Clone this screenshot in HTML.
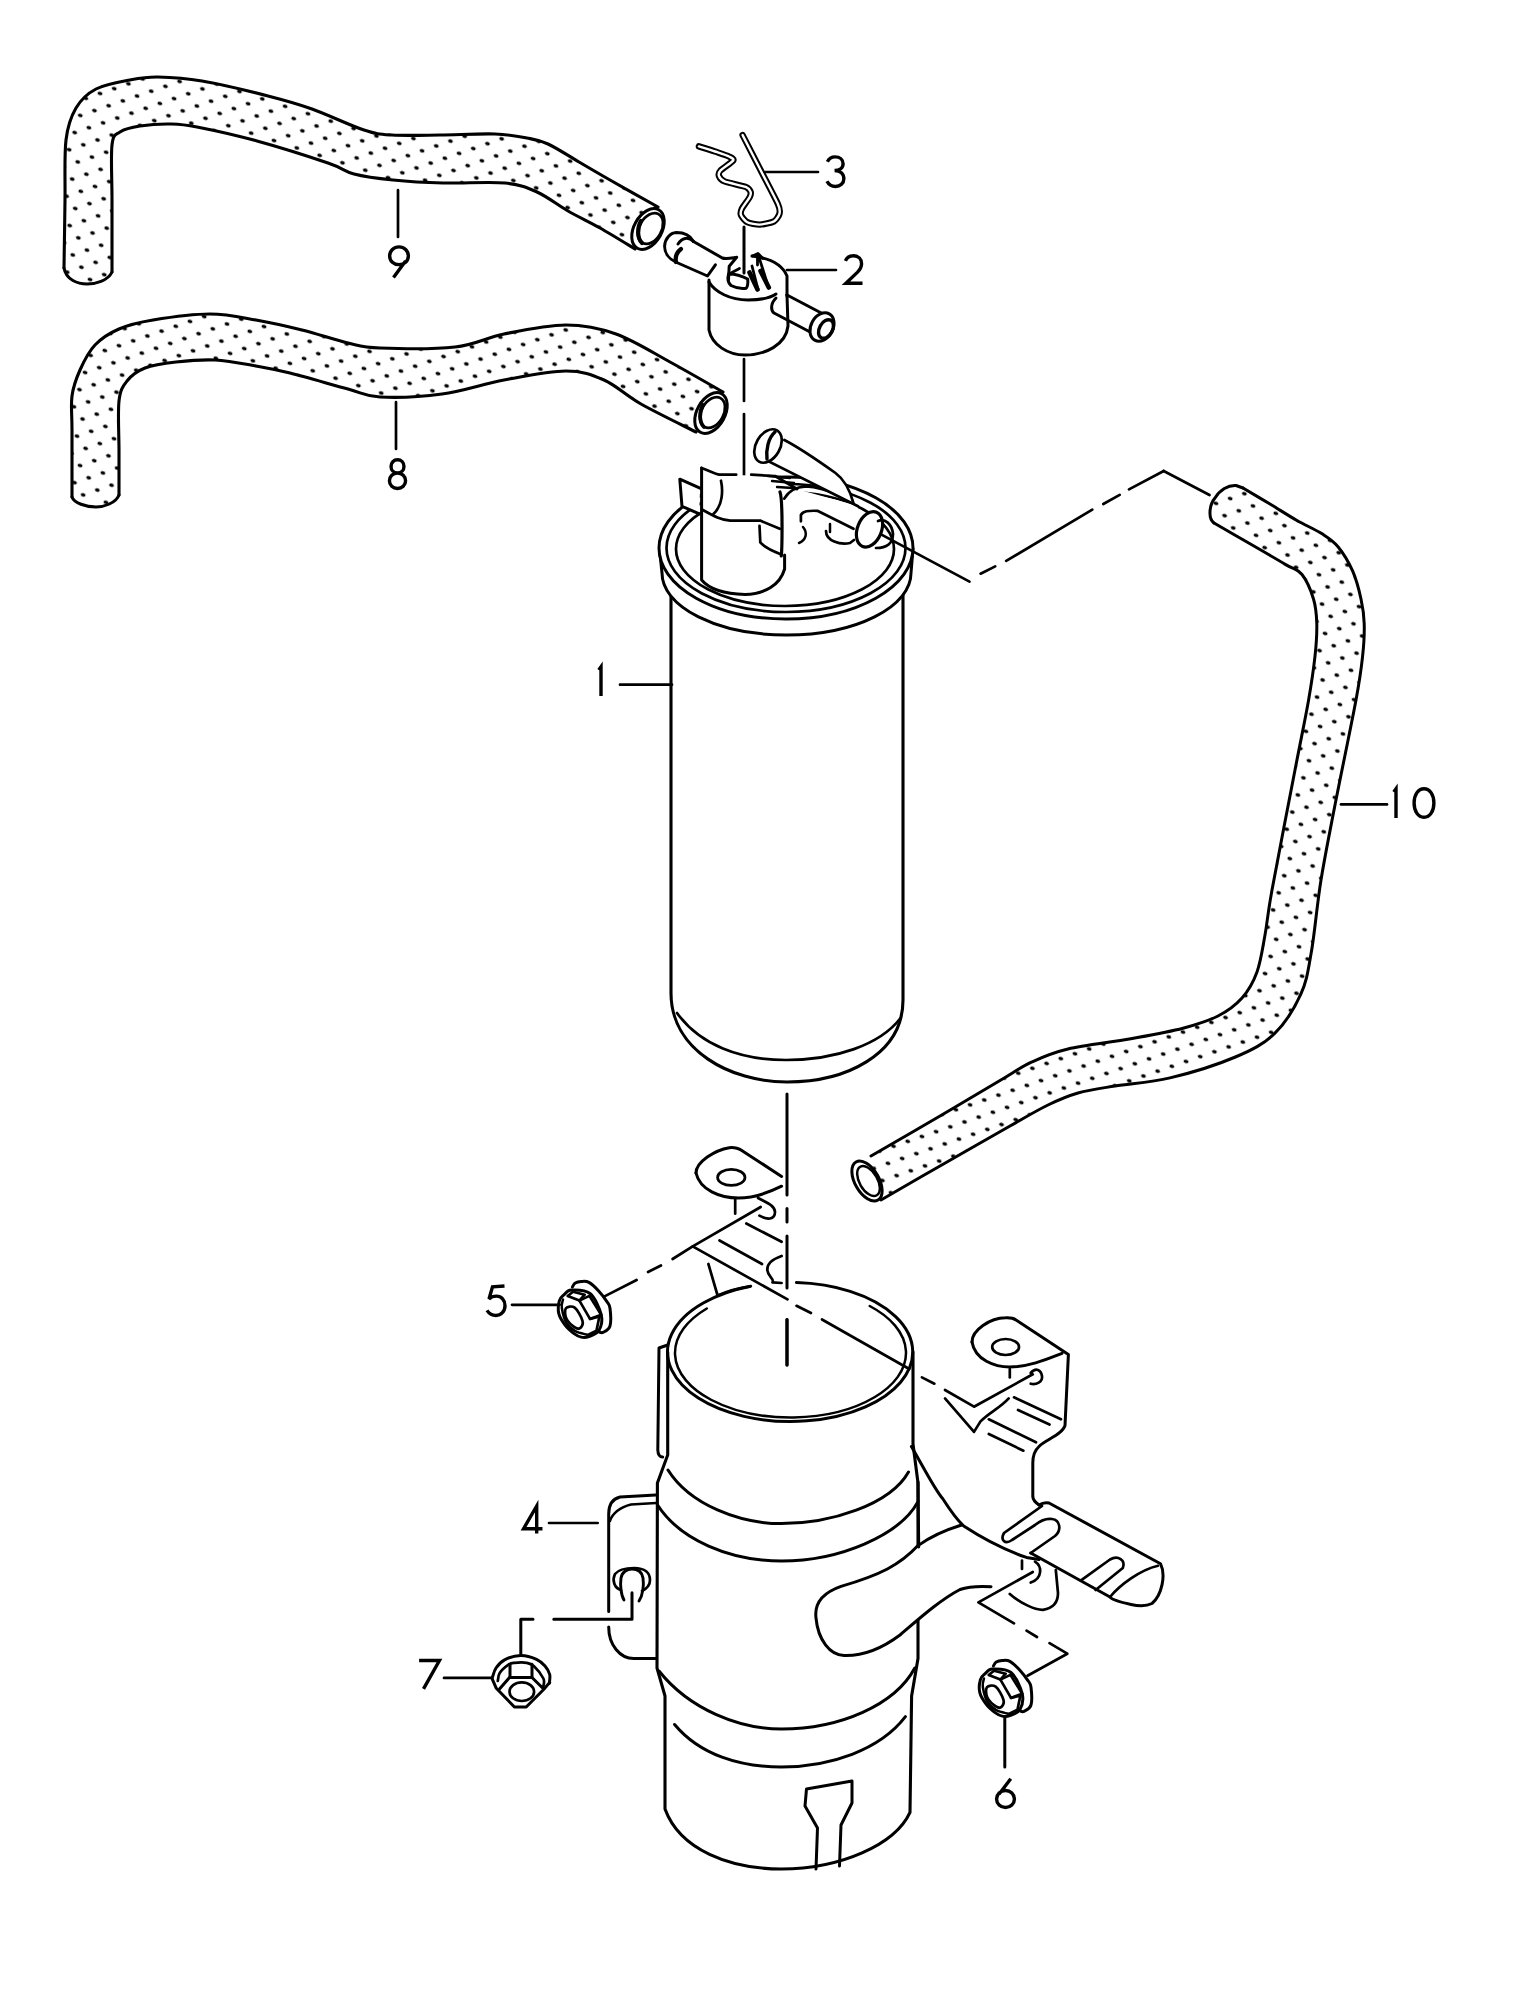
<!DOCTYPE html>
<html><head><meta charset="utf-8"><style>
html,body{margin:0;padding:0;background:#fff;font-family:"Liberation Sans",sans-serif;overflow:hidden;}
svg{display:block;}
</style></head><body>
<svg width="1529" height="2009" viewBox="0 0 1529 2009" stroke-linecap="round" stroke-linejoin="round">
<defs>
<pattern id="dots" width="24" height="18" patternUnits="userSpaceOnUse" patternTransform="rotate(18)">
<ellipse cx="4" cy="4" rx="2.5" ry="1.8" fill="#000"/><ellipse cx="16" cy="13" rx="2.5" ry="1.8" fill="#000"/>
</pattern>
</defs>
<rect width="1529" height="2009" fill="#fff"/>
<path d="M64,268 C64.2,256.7 64.7,221.3 65,200 C65.3,178.7 64.2,155.3 66,140 C67.8,124.7 71,116.5 76,108 C81,99.5 87,93.7 96,89 C105,84.3 119.7,82 130,80 C140.3,78 146,76.8 158,77 C170,77.2 183.7,77.8 202,81 C220.3,84.2 249.7,91.3 268,96 C286.3,100.7 296,103.3 312,109 C328,114.7 350.7,125.7 364,130 C377.3,134.3 379.3,134.2 392,135 C404.7,135.8 422.8,135.2 440,135 C457.2,134.8 480.5,133.5 495,134 C509.5,134.5 518.2,136.3 527,138 C535.8,139.7 539.3,140 548,144 C556.7,148 568.7,156 579,162 C589.3,168 596.8,172.5 610,180 C623.2,187.5 650,202.5 658,207 L635,249 C629.2,245.5 611.2,234.3 600,228 C588.8,221.7 578.5,217 568,211 C557.5,205 547.5,196.7 537,192 C526.5,187.3 520.7,184.5 505,183 C489.3,181.5 461.7,183.5 443,183 C424.3,182.5 407.8,181.5 393,180 C378.2,178.5 364.8,176.8 354,174 C343.2,171.2 344.2,168.5 328,163 C311.8,157.5 278.8,147 257,141 C235.2,135 211.3,129.8 197,127 C182.7,124.2 180.5,124.2 171,124 C161.5,123.8 148.5,124.7 140,126 C131.5,127.3 124.7,128.8 120,132 C115.3,135.2 113.3,133.7 112,145 C110.7,156.3 112,178.8 112,200 C112,221.2 112,260 112,272 C108,281 95,284 87,284 C78,284 66,280 64,268Z" fill="#fff" stroke="none"/>
<path d="M64,268 C64.2,256.7 64.7,221.3 65,200 C65.3,178.7 64.2,155.3 66,140 C67.8,124.7 71,116.5 76,108 C81,99.5 87,93.7 96,89 C105,84.3 119.7,82 130,80 C140.3,78 146,76.8 158,77 C170,77.2 183.7,77.8 202,81 C220.3,84.2 249.7,91.3 268,96 C286.3,100.7 296,103.3 312,109 C328,114.7 350.7,125.7 364,130 C377.3,134.3 379.3,134.2 392,135 C404.7,135.8 422.8,135.2 440,135 C457.2,134.8 480.5,133.5 495,134 C509.5,134.5 518.2,136.3 527,138 C535.8,139.7 539.3,140 548,144 C556.7,148 568.7,156 579,162 C589.3,168 596.8,172.5 610,180 C623.2,187.5 650,202.5 658,207 L635,249 C629.2,245.5 611.2,234.3 600,228 C588.8,221.7 578.5,217 568,211 C557.5,205 547.5,196.7 537,192 C526.5,187.3 520.7,184.5 505,183 C489.3,181.5 461.7,183.5 443,183 C424.3,182.5 407.8,181.5 393,180 C378.2,178.5 364.8,176.8 354,174 C343.2,171.2 344.2,168.5 328,163 C311.8,157.5 278.8,147 257,141 C235.2,135 211.3,129.8 197,127 C182.7,124.2 180.5,124.2 171,124 C161.5,123.8 148.5,124.7 140,126 C131.5,127.3 124.7,128.8 120,132 C115.3,135.2 113.3,133.7 112,145 C110.7,156.3 112,178.8 112,200 C112,221.2 112,260 112,272 C108,281 95,284 87,284 C78,284 66,280 64,268Z" fill="url(#dots)" stroke="none"/>
<path d="M64,268 C64.2,256.7 64.7,221.3 65,200 C65.3,178.7 64.2,155.3 66,140 C67.8,124.7 71,116.5 76,108 C81,99.5 87,93.7 96,89 C105,84.3 119.7,82 130,80 C140.3,78 146,76.8 158,77 C170,77.2 183.7,77.8 202,81 C220.3,84.2 249.7,91.3 268,96 C286.3,100.7 296,103.3 312,109 C328,114.7 350.7,125.7 364,130 C377.3,134.3 379.3,134.2 392,135 C404.7,135.8 422.8,135.2 440,135 C457.2,134.8 480.5,133.5 495,134 C509.5,134.5 518.2,136.3 527,138 C535.8,139.7 539.3,140 548,144 C556.7,148 568.7,156 579,162 C589.3,168 596.8,172.5 610,180 C623.2,187.5 650,202.5 658,207" fill="none" stroke="#000" stroke-width="3.1" />
<path d="M635,249 C629.2,245.5 611.2,234.3 600,228 C588.8,221.7 578.5,217 568,211 C557.5,205 547.5,196.7 537,192 C526.5,187.3 520.7,184.5 505,183 C489.3,181.5 461.7,183.5 443,183 C424.3,182.5 407.8,181.5 393,180 C378.2,178.5 364.8,176.8 354,174 C343.2,171.2 344.2,168.5 328,163 C311.8,157.5 278.8,147 257,141 C235.2,135 211.3,129.8 197,127 C182.7,124.2 180.5,124.2 171,124 C161.5,123.8 148.5,124.7 140,126 C131.5,127.3 124.7,128.8 120,132 C115.3,135.2 113.3,133.7 112,145 C110.7,156.3 112,178.8 112,200 C112,221.2 112,260 112,272" fill="none" stroke="#000" stroke-width="3.1" />
<path d="M112,272 C108,281 95,284 87,284 C78,284 66,280 64,268" fill="none" stroke="#000" stroke-width="3.0" />
<ellipse cx="648" cy="229" rx="14" ry="22" transform="rotate(29 648 229)" fill="#fff" stroke="#000" stroke-width="3.0" />
<ellipse cx="650.5" cy="228.5" rx="11" ry="16.5" transform="rotate(29 650.5 228.5)" fill="#fff" stroke="#000" stroke-width="2.7" />
<path d="M641,221 C637,228 637,238 642,243" fill="none" stroke="#000" stroke-width="4.2" />
<path d="M72,497 C72,485.8 72,446.8 72,430 C72,413.2 70.7,406 72,396 C73.3,386 76.2,378.5 80,370 C83.8,361.5 88.5,351.8 95,345 C101.5,338.2 109.3,333.2 119,329 C128.7,324.8 137.8,322.5 153,320 C168.2,317.5 192.8,314 210,314 C227.2,314 240.7,317.3 256,320 C271.3,322.7 286.7,326.2 302,330 C317.3,333.8 335,340 348,343 C361,346 362.2,347.3 380,348 C397.8,348.7 434.3,349.3 455,347 C475.7,344.7 485.5,337.7 504,334 C522.5,330.3 547.3,325 566,325 C584.7,325 598.7,327.8 616,334 C633.3,340.2 652.2,352.3 670,362 C687.8,371.7 714.2,387 723,392 L696,432 C686.8,427.3 656.3,412.7 641,404 C625.7,395.3 616.5,385.5 604,380 C591.5,374.5 582.7,371 566,371 C549.3,371 524.7,376.2 504,380 C483.3,383.8 462.7,391.2 442,394 C421.3,396.8 395.7,397.8 380,397 C364.3,396.2 363,393 348,389 C333,385 305.3,376.8 290,373 C274.7,369.2 268.5,368.2 256,366 C243.5,363.8 228.3,360.7 215,360 C201.7,359.3 187.7,360.7 176,362 C164.3,363.3 153.2,364.8 145,368 C136.8,371.2 131.3,375.5 127,381 C122.7,386.5 120.3,389.5 119,401 C117.7,412.5 119,434.3 119,450 C119,465.7 119,487.5 119,495 C116,503 104,507 96,507 C86,507 74,503 72,497Z" fill="#fff" stroke="none"/>
<path d="M72,497 C72,485.8 72,446.8 72,430 C72,413.2 70.7,406 72,396 C73.3,386 76.2,378.5 80,370 C83.8,361.5 88.5,351.8 95,345 C101.5,338.2 109.3,333.2 119,329 C128.7,324.8 137.8,322.5 153,320 C168.2,317.5 192.8,314 210,314 C227.2,314 240.7,317.3 256,320 C271.3,322.7 286.7,326.2 302,330 C317.3,333.8 335,340 348,343 C361,346 362.2,347.3 380,348 C397.8,348.7 434.3,349.3 455,347 C475.7,344.7 485.5,337.7 504,334 C522.5,330.3 547.3,325 566,325 C584.7,325 598.7,327.8 616,334 C633.3,340.2 652.2,352.3 670,362 C687.8,371.7 714.2,387 723,392 L696,432 C686.8,427.3 656.3,412.7 641,404 C625.7,395.3 616.5,385.5 604,380 C591.5,374.5 582.7,371 566,371 C549.3,371 524.7,376.2 504,380 C483.3,383.8 462.7,391.2 442,394 C421.3,396.8 395.7,397.8 380,397 C364.3,396.2 363,393 348,389 C333,385 305.3,376.8 290,373 C274.7,369.2 268.5,368.2 256,366 C243.5,363.8 228.3,360.7 215,360 C201.7,359.3 187.7,360.7 176,362 C164.3,363.3 153.2,364.8 145,368 C136.8,371.2 131.3,375.5 127,381 C122.7,386.5 120.3,389.5 119,401 C117.7,412.5 119,434.3 119,450 C119,465.7 119,487.5 119,495 C116,503 104,507 96,507 C86,507 74,503 72,497Z" fill="url(#dots)" stroke="none"/>
<path d="M72,497 C72,485.8 72,446.8 72,430 C72,413.2 70.7,406 72,396 C73.3,386 76.2,378.5 80,370 C83.8,361.5 88.5,351.8 95,345 C101.5,338.2 109.3,333.2 119,329 C128.7,324.8 137.8,322.5 153,320 C168.2,317.5 192.8,314 210,314 C227.2,314 240.7,317.3 256,320 C271.3,322.7 286.7,326.2 302,330 C317.3,333.8 335,340 348,343 C361,346 362.2,347.3 380,348 C397.8,348.7 434.3,349.3 455,347 C475.7,344.7 485.5,337.7 504,334 C522.5,330.3 547.3,325 566,325 C584.7,325 598.7,327.8 616,334 C633.3,340.2 652.2,352.3 670,362 C687.8,371.7 714.2,387 723,392" fill="none" stroke="#000" stroke-width="3.1" />
<path d="M696,432 C686.8,427.3 656.3,412.7 641,404 C625.7,395.3 616.5,385.5 604,380 C591.5,374.5 582.7,371 566,371 C549.3,371 524.7,376.2 504,380 C483.3,383.8 462.7,391.2 442,394 C421.3,396.8 395.7,397.8 380,397 C364.3,396.2 363,393 348,389 C333,385 305.3,376.8 290,373 C274.7,369.2 268.5,368.2 256,366 C243.5,363.8 228.3,360.7 215,360 C201.7,359.3 187.7,360.7 176,362 C164.3,363.3 153.2,364.8 145,368 C136.8,371.2 131.3,375.5 127,381 C122.7,386.5 120.3,389.5 119,401 C117.7,412.5 119,434.3 119,450 C119,465.7 119,487.5 119,495" fill="none" stroke="#000" stroke-width="3.1" />
<path d="M119,495 C116,503 104,507 96,507 C86,507 74,503 72,497" fill="none" stroke="#000" stroke-width="3.0" />
<ellipse cx="711" cy="413" rx="14" ry="22" transform="rotate(29 711 413)" fill="#fff" stroke="#000" stroke-width="3.0" />
<ellipse cx="712.5" cy="412.5" rx="11" ry="16.5" transform="rotate(29 712.5 412.5)" fill="#fff" stroke="#000" stroke-width="2.7" />
<path d="M703,405 C699,412 699,422 704,427" fill="none" stroke="#000" stroke-width="3.8" />
<path d="M698.9,146.4 C700.8,147 711.5,150.3 715,151.5 C718.5,152.7 726.9,155.4 729,156.5 C731.1,157.6 734.2,158.9 733.2,160.5 C732.2,162.1 722.3,168.6 720.6,170.4 C718.9,172.2 718.5,174.7 719,176 C719.5,177.3 721.5,180.1 724.6,181.4 C727.7,182.7 742.7,185.7 745.7,186.9 C748.7,188.1 750,190.4 750.5,191.6 C751,192.8 750.7,195.1 749.7,197.1 C748.7,199.1 742.8,206.8 741.8,208.9 C740.8,211 740.4,213.6 741,215.2 C741.6,216.8 745.1,221.1 747.3,222.2 C749.5,223.3 756.8,224.7 759.9,224.6 C763,224.5 771.7,222.7 774,221.4 C776.3,220.1 779,215.6 779.5,213.6 C780,211.6 780.3,209.4 778,204.2 C775.7,199 764.1,177.1 760,169 C755.9,160.9 744.6,139.1 742.6,135.1" fill="none" stroke="#000" stroke-width="6.4" />
<path d="M698.9,146.4 C700.8,147 711.5,150.3 715,151.5 C718.5,152.7 726.9,155.4 729,156.5 C731.1,157.6 734.2,158.9 733.2,160.5 C732.2,162.1 722.3,168.6 720.6,170.4 C718.9,172.2 718.5,174.7 719,176 C719.5,177.3 721.5,180.1 724.6,181.4 C727.7,182.7 742.7,185.7 745.7,186.9 C748.7,188.1 750,190.4 750.5,191.6 C751,192.8 750.7,195.1 749.7,197.1 C748.7,199.1 742.8,206.8 741.8,208.9 C740.8,211 740.4,213.6 741,215.2 C741.6,216.8 745.1,221.1 747.3,222.2 C749.5,223.3 756.8,224.7 759.9,224.6 C763,224.5 771.7,222.7 774,221.4 C776.3,220.1 779,215.6 779.5,213.6 C780,211.6 780.3,209.4 778,204.2 C775.7,199 764.1,177.1 760,169 C755.9,160.9 744.6,139.1 742.6,135.1" fill="none" stroke="#fff" stroke-width="2.4"/>
<line x1="765" y1="172" x2="818" y2="172" stroke="#000" stroke-width="2.7" />
<line x1="744" y1="227" x2="744" y2="273" stroke="#000" stroke-width="3.0" />
<path d="M709,280 L709,330 C712,345 728,355 745,355 C765,355 786,345 788,326 L787,295" fill="#fff" stroke="#000" stroke-width="3.0" />
<path d="M709,282 C715,292 730,300 748,300 C760,300 770,298 776,294" fill="none" stroke="#000" stroke-width="3.0" />
<path d="M752,256 C768,258 782,264 787,276 L787,296" fill="none" stroke="#000" stroke-width="3.0" />
<path d="M693.5,241.5 L722.3,258 C726,259.5 732,258 736.7,257.3 L729.2,266.2 L728.5,280" fill="none" stroke="#000" stroke-width="3.0" />
<path d="M675.6,262 L707.5,276 L715.4,264.8" fill="none" stroke="#000" stroke-width="3.0" />
<path d="M693.5,241.5 C690,235 683,232.6 676.3,232.6 C670,233 665,239 664.6,246 C664.5,253 669,259 675.6,262" fill="none" stroke="#000" stroke-width="3.0" />
<path d="M678,244 C682,238 688,236 693.5,241.5" fill="none" stroke="#000" stroke-width="3.0" />
<path d="M681,249 C677,252 675,257 676,262" fill="none" stroke="#000" stroke-width="4.2" />
<path d="M787,295 L827,316" fill="none" stroke="#000" stroke-width="3.0" />
<path d="M776,298 C770,304 771,311 774,313 L812,333" fill="none" stroke="#000" stroke-width="3.0" />
<ellipse cx="822" cy="327" rx="11" ry="15" transform="rotate(29 822 327)" fill="#fff" stroke="#000" stroke-width="3.0" />
<ellipse cx="826" cy="329" rx="6.5" ry="10" transform="rotate(29 826 329)" fill="none" stroke="#000" stroke-width="3.4" />
<path d="M728.5,274 C727,280 728,283 731,285.5 C736,288 742,289 746.3,288.2 C748,286 748,282 747.7,279 C742,276 736,274 729,274" fill="none" stroke="#000" stroke-width="3.0" />
<path d="M731,273 L739.5,268.5" fill="none" stroke="#000" stroke-width="2.7" />
<path d="M749.5,272.5 L757.5,289.5 M760.5,271 L768.8,287.5" fill="none" stroke="#000" stroke-width="4.6" />
<path d="M752,266 L758,289.5 M758,254 L768.5,287.5 M752.5,256 L758,253.5 L763,258.5 M757.5,254 L757.5,265" fill="none" stroke="#000" stroke-width="2.8" />
<line x1="787" y1="270" x2="836" y2="270" stroke="#000" stroke-width="2.7" />
<line x1="744" y1="359" x2="744" y2="401" stroke="#000" stroke-width="2.7" />
<line x1="744" y1="414" x2="744" y2="515" stroke="#000" stroke-width="2.7" />
<path d="M671,594 L671,993 C671,1050 730,1082 787,1082 C845,1082 903,1055 903,1000 L903,594" fill="none" stroke="#000" stroke-width="3.1" />
<path d="M677,1013 C700,1045 740,1060 786,1060 C835,1060 880,1045 900.6,1018" fill="none" stroke="#000" stroke-width="2.7" />
<path d="M659.5,549 L662,573 A124.5,62 0 0 0 911,573 L913,549" fill="#fff" stroke="#000" stroke-width="3.0" />
<ellipse cx="786" cy="548" rx="127" ry="71" transform="rotate(0 786 548)" fill="#fff" stroke="#000" stroke-width="3.0" />
<ellipse cx="786" cy="548" rx="119.5" ry="64" transform="rotate(0 786 548)" fill="none" stroke="#000" stroke-width="2.7" />
<ellipse cx="785" cy="549" rx="109" ry="57" transform="rotate(0 785 549)" fill="none" stroke="#000" stroke-width="2.7" />
<path d="M701.6,468 L719.6,474.7 L775,476 L800,490 L858,506 L856,545 L781.3,556 L784.6,570 L778,583.5 L749,594.5 L727,592.7 L701.6,580Z" fill="#fff" stroke="none"/>
<path d="M679.8,479.2 L700,488.2 L699.3,513.8 L682,506.3Z" fill="#fff" stroke="none"/>
<path d="M699.3,513.8 L682,506.3 L679.8,479.2 L700,488.2" fill="none" stroke="#000" stroke-width="3.0" />
<path d="M701.6,468 L701.6,580 C710,590 727,594 745,594.5 C765,594 780,585 784.6,569 L784.6,555" fill="none" stroke="#000" stroke-width="3.0" />
<path d="M701.6,468 C710,471 715,474 719.6,474.7 L736.2,474.7" fill="none" stroke="#000" stroke-width="2.7" />
<path d="M751.2,474.7 L775,476 L797,489" fill="none" stroke="#000" stroke-width="2.7" />
<path d="M768,476 L790,478 M772,481 L794,483 M777,487 L793,488" fill="none" stroke="#000" stroke-width="2.3" />
<path d="M721,480.7 C723,490 723,505 713.6,513.8" fill="none" stroke="#000" stroke-width="2.7" />
<path d="M701.6,509.3 C712,515 720,520 730.2,520.6 L760.2,520.6 L779.8,528.8" fill="none" stroke="#000" stroke-width="2.7" />
<path d="M759.5,525.8 L760.3,542.4 C765,548 775,552 781.3,554.4" fill="none" stroke="#000" stroke-width="2.7" />
<path d="M780,492 C783,500 782,550 781.3,556" fill="none" stroke="#000" stroke-width="3.2" />
<path d="M784.3,498.7 C788,492 795,487 806,486.5 C815,486.5 825,489 852,500.3" fill="none" stroke="#000" stroke-width="2.7" />
<path d="M800.9,521.3 L800.9,515 C803,511 808,510.5 817.4,510.8 L853.5,528.8" fill="none" stroke="#000" stroke-width="2.7" />
<path d="M803,527 C808,533 806,540 799,543" fill="none" stroke="#000" stroke-width="2.5" />
<path d="M826,531 C826,541 840,545 850,543 L854,540" fill="none" stroke="#000" stroke-width="2.7" />
<path d="M830,524 L830,532" fill="none" stroke="#000" stroke-width="2.5" />
<ellipse cx="869.5" cy="529.3" rx="12" ry="18.5" transform="rotate(22 869.5 529.3)" fill="#fff" stroke="#000" stroke-width="3.2" />
<path d="M878,521 C885,518 892,524 893,534 C893,543 887,548 876,548" fill="none" stroke="#000" stroke-width="2.7" />
<path d="M761.8,458 L858,506.3 L853.5,503.3 C850,490 845,480 835.5,473 L784,440 L770,430Z" fill="#fff" stroke="none"/>
<path d="M784.3,440 C800,448 820,462 835.5,473 C845,480 850,490 853.5,503.3" fill="none" stroke="#000" stroke-width="2.7" />
<path d="M761.8,458 L858,506.3" fill="none" stroke="#000" stroke-width="2.7" />
<path d="M881,534.4 L969.5,581.6" fill="none" stroke="#000" stroke-width="2.7" />
<ellipse cx="768" cy="446" rx="12" ry="18" transform="rotate(30 768 446)" fill="#fff" stroke="#000" stroke-width="2.7" />
<path d="M775,432 C768,438 766,450 767,459" fill="none" stroke="#000" stroke-width="3.4" />
<path d="M980.6,573.7 L995.2,566.4 M1006.2,560.9 L1092.3,509.6 M1103.3,504 L1119.7,494.9 M1129,489.4 L1163.7,471" fill="none" stroke="#000" stroke-width="2.7" />
<path d="M1163.7,471 L1209.5,495" fill="none" stroke="#000" stroke-width="2.7" />
<path d="M1243,488 C1247.5,490.7 1261,498.6 1270,504 C1279,509.4 1288.4,515.6 1297,520.5 C1305.6,525.4 1314.9,529.2 1321.7,533.6 C1328.5,538 1332.8,540.4 1338,546.7 C1343.2,553 1348.9,562.5 1352.7,571.2 C1356.5,579.9 1359.1,590.3 1361,599 C1362.9,607.7 1363.9,614 1364.2,623.5 C1364.5,633 1364,643.5 1362.6,656.2 C1361.2,669 1360.6,675.2 1356,700 C1351.4,724.8 1340.8,775 1335,805 C1329.2,835 1325,855.5 1321,880 C1317,904.5 1314.7,933.3 1311.3,952.3 C1307.9,971.3 1306.9,980.7 1300.8,994.2 C1294.7,1007.7 1285.6,1022.9 1274.7,1033.4 C1263.8,1043.9 1252.9,1049.6 1235.4,1057 C1218,1064.4 1190.1,1073.1 1170,1077.9 C1149.9,1082.7 1130.3,1083.5 1115,1086 C1099.7,1088.5 1089.2,1089.8 1078,1093 C1066.8,1096.2 1059.3,1099.5 1048,1105 C1036.7,1110.5 1028,1115.8 1010,1126 C992,1136.2 961.5,1153.7 940,1166 C918.5,1178.3 890.8,1194.3 881,1200 L871,1156 C882.5,1149.3 918.5,1128.6 940,1116 C961.5,1103.4 984.8,1089.5 1000,1080.5 C1015.2,1071.5 1020.1,1067.5 1031.4,1062.2 C1042.7,1057 1051.4,1052.9 1068,1049 C1084.6,1045.1 1111.6,1042.2 1130.8,1038.7 C1150,1035.2 1168.5,1032 1183,1028.2 C1197.5,1024.4 1208.2,1021 1218,1016 C1227.8,1011 1235.5,1005.3 1242,998 C1248.5,990.7 1253.2,982.5 1257,972 C1260.8,961.5 1262.5,948.7 1265,935 C1267.5,921.3 1267,917.5 1272,890 C1277,862.5 1288.9,801.7 1295,770 C1301.1,738.3 1305.3,719 1308.6,700 C1311.9,681 1313.6,669 1315,656.2 C1316.4,643.5 1317,633 1316.8,623.5 C1316.5,614 1316,607.2 1313.5,599 C1311,590.8 1306.6,580.2 1302,574.5 C1297.4,568.8 1295,570.1 1285.7,564.6 C1276.5,559.1 1258.5,548.7 1246.5,541.8 C1234.5,534.9 1219.4,526.1 1214,523 C1208,519 1209,505 1215,498 C1220,490 1228,485 1236,485.5 L1243,488Z" fill="#fff" stroke="none"/>
<path d="M1243,488 C1247.5,490.7 1261,498.6 1270,504 C1279,509.4 1288.4,515.6 1297,520.5 C1305.6,525.4 1314.9,529.2 1321.7,533.6 C1328.5,538 1332.8,540.4 1338,546.7 C1343.2,553 1348.9,562.5 1352.7,571.2 C1356.5,579.9 1359.1,590.3 1361,599 C1362.9,607.7 1363.9,614 1364.2,623.5 C1364.5,633 1364,643.5 1362.6,656.2 C1361.2,669 1360.6,675.2 1356,700 C1351.4,724.8 1340.8,775 1335,805 C1329.2,835 1325,855.5 1321,880 C1317,904.5 1314.7,933.3 1311.3,952.3 C1307.9,971.3 1306.9,980.7 1300.8,994.2 C1294.7,1007.7 1285.6,1022.9 1274.7,1033.4 C1263.8,1043.9 1252.9,1049.6 1235.4,1057 C1218,1064.4 1190.1,1073.1 1170,1077.9 C1149.9,1082.7 1130.3,1083.5 1115,1086 C1099.7,1088.5 1089.2,1089.8 1078,1093 C1066.8,1096.2 1059.3,1099.5 1048,1105 C1036.7,1110.5 1028,1115.8 1010,1126 C992,1136.2 961.5,1153.7 940,1166 C918.5,1178.3 890.8,1194.3 881,1200 L871,1156 C882.5,1149.3 918.5,1128.6 940,1116 C961.5,1103.4 984.8,1089.5 1000,1080.5 C1015.2,1071.5 1020.1,1067.5 1031.4,1062.2 C1042.7,1057 1051.4,1052.9 1068,1049 C1084.6,1045.1 1111.6,1042.2 1130.8,1038.7 C1150,1035.2 1168.5,1032 1183,1028.2 C1197.5,1024.4 1208.2,1021 1218,1016 C1227.8,1011 1235.5,1005.3 1242,998 C1248.5,990.7 1253.2,982.5 1257,972 C1260.8,961.5 1262.5,948.7 1265,935 C1267.5,921.3 1267,917.5 1272,890 C1277,862.5 1288.9,801.7 1295,770 C1301.1,738.3 1305.3,719 1308.6,700 C1311.9,681 1313.6,669 1315,656.2 C1316.4,643.5 1317,633 1316.8,623.5 C1316.5,614 1316,607.2 1313.5,599 C1311,590.8 1306.6,580.2 1302,574.5 C1297.4,568.8 1295,570.1 1285.7,564.6 C1276.5,559.1 1258.5,548.7 1246.5,541.8 C1234.5,534.9 1219.4,526.1 1214,523 C1208,519 1209,505 1215,498 C1220,490 1228,485 1236,485.5 L1243,488Z" fill="url(#dots)" stroke="none"/>
<path d="M1243,488 C1247.5,490.7 1261,498.6 1270,504 C1279,509.4 1288.4,515.6 1297,520.5 C1305.6,525.4 1314.9,529.2 1321.7,533.6 C1328.5,538 1332.8,540.4 1338,546.7 C1343.2,553 1348.9,562.5 1352.7,571.2 C1356.5,579.9 1359.1,590.3 1361,599 C1362.9,607.7 1363.9,614 1364.2,623.5 C1364.5,633 1364,643.5 1362.6,656.2 C1361.2,669 1360.6,675.2 1356,700 C1351.4,724.8 1340.8,775 1335,805 C1329.2,835 1325,855.5 1321,880 C1317,904.5 1314.7,933.3 1311.3,952.3 C1307.9,971.3 1306.9,980.7 1300.8,994.2 C1294.7,1007.7 1285.6,1022.9 1274.7,1033.4 C1263.8,1043.9 1252.9,1049.6 1235.4,1057 C1218,1064.4 1190.1,1073.1 1170,1077.9 C1149.9,1082.7 1130.3,1083.5 1115,1086 C1099.7,1088.5 1089.2,1089.8 1078,1093 C1066.8,1096.2 1059.3,1099.5 1048,1105 C1036.7,1110.5 1028,1115.8 1010,1126 C992,1136.2 961.5,1153.7 940,1166 C918.5,1178.3 890.8,1194.3 881,1200" fill="none" stroke="#000" stroke-width="3.0" />
<path d="M871,1156 C882.5,1149.3 918.5,1128.6 940,1116 C961.5,1103.4 984.8,1089.5 1000,1080.5 C1015.2,1071.5 1020.1,1067.5 1031.4,1062.2 C1042.7,1057 1051.4,1052.9 1068,1049 C1084.6,1045.1 1111.6,1042.2 1130.8,1038.7 C1150,1035.2 1168.5,1032 1183,1028.2 C1197.5,1024.4 1208.2,1021 1218,1016 C1227.8,1011 1235.5,1005.3 1242,998 C1248.5,990.7 1253.2,982.5 1257,972 C1260.8,961.5 1262.5,948.7 1265,935 C1267.5,921.3 1267,917.5 1272,890 C1277,862.5 1288.9,801.7 1295,770 C1301.1,738.3 1305.3,719 1308.6,700 C1311.9,681 1313.6,669 1315,656.2 C1316.4,643.5 1317,633 1316.8,623.5 C1316.5,614 1316,607.2 1313.5,599 C1311,590.8 1306.6,580.2 1302,574.5 C1297.4,568.8 1295,570.1 1285.7,564.6 C1276.5,559.1 1258.5,548.7 1246.5,541.8 C1234.5,534.9 1219.4,526.1 1214,523" fill="none" stroke="#000" stroke-width="3.0" />
<path d="M1214,523 C1208,519 1209,505 1215,498 C1220,490 1228,485 1236,485.5 L1243,488" fill="none" stroke="#000" stroke-width="3.0" />
<ellipse cx="867" cy="1181" rx="12" ry="22" transform="rotate(-30 867 1181)" fill="#fff" stroke="#000" stroke-width="3.0" />
<ellipse cx="868.5" cy="1181" rx="9" ry="16.5" transform="rotate(-30 868.5 1181)" fill="#fff" stroke="#000" stroke-width="2.5" />
<path d="M787,1094 L787,1195 M787,1208.5 L787,1222 M787,1236 L787,1288 M787,1319.5 L787,1365" fill="none" stroke="#000" stroke-width="3.0" />
<path d="M696,1173 C696,1162 715,1150 729.3,1147.7 C735,1147 739.8,1149 741,1150 L781.6,1176.4" fill="none" stroke="#000" stroke-width="3.0" />
<path d="M781.6,1186.2 C770,1192 755,1198 738.5,1198 C720,1198 700,1190 696,1173" fill="none" stroke="#000" stroke-width="3.0" />
<ellipse cx="731.3" cy="1177.4" rx="13.7" ry="8" transform="rotate(0 731.3 1177.4)" fill="none" stroke="#000" stroke-width="2.7" />
<path d="M735.2,1199 L735.2,1213.7" fill="none" stroke="#000" stroke-width="2.7" />
<path d="M758,1198 C765,1202 775,1205 775,1212 C775,1220 767,1220 759.4,1215.7" fill="none" stroke="#000" stroke-width="2.7" />
<path d="M672.6,1259 L692.7,1246.4 L760.7,1207" fill="none" stroke="#000" stroke-width="2.7" />
<path d="M692.7,1246.4 L787.5,1299.4" fill="none" stroke="#000" stroke-width="2.7" />
<path d="M746.3,1223.5 L781.6,1241.8 M719.5,1240.5 L762,1264" fill="none" stroke="#000" stroke-width="2.7" />
<path d="M781.6,1256 C770,1260 767,1265 767.3,1270 C768,1277 775,1279 772.5,1282.4 L781.6,1283" fill="none" stroke="#000" stroke-width="2.7" />
<path d="M708.4,1264 L717.6,1295.5 C728,1291 738,1288 750,1286.3" fill="none" stroke="#000" stroke-width="2.7" />
<path d="M604,1296.6 L636.6,1280 M648,1272 L661,1265.5" fill="none" stroke="#000" stroke-width="2.7" />
<path d="M796.5,1305.8 L811,1313 M822,1319.5 L909.3,1369 M921.9,1377.4 L934.4,1383.7" fill="none" stroke="#000" stroke-width="2.7" />
<path d="M750.7,1286.2 A122.6,69.5 0 1 0 796.5,1282.6" fill="none" stroke="#000" stroke-width="3.0" />
<path d="M706.8,1308.5 A115.5,64.5 0 1 0 869.7,1306" fill="none" stroke="#000" stroke-width="2.5" />
<path d="M787,1319.5 L787,1365" fill="none" stroke="#000" stroke-width="3.0" />
<path d="M667.7,1352 L667.7,1455 L657.4,1483 L657,1668 L665,1696 L665,1809 C680,1850 730,1869 781.4,1869 C840,1869 895,1845 910,1812.4 L911.6,1696 L918,1658.6 L918,1483 L913,1444 L913,1352" fill="none" stroke="#000" stroke-width="3.1" />
<path d="M667.7,1345 L659,1348 L657.8,1450 C658,1455 660,1457 662.7,1457" fill="none" stroke="#000" stroke-width="3.0" />
<path d="M668,1470 C690,1505 740,1523.6 781.4,1523.6 C830,1523.6 890,1505 908.5,1472" fill="none" stroke="#000" stroke-width="3.0" />
<path d="M657.4,1504.8 C680,1540 730,1561 781.4,1561 C840,1561 900,1535 918,1501.6" fill="none" stroke="#000" stroke-width="3.0" />
<path d="M659,1671 C690,1710 740,1729 781.4,1729 C840,1729 895,1705 914.8,1668" fill="none" stroke="#000" stroke-width="3.0" />
<path d="M674.6,1724.5 C700,1755 740,1767 781.4,1767 C830,1767 880,1750 905.4,1716.7" fill="none" stroke="#000" stroke-width="3.0" />
<path d="M816,1869 L817.5,1828 L805,1806 L806.5,1789 L852,1781 L852,1803 L841,1825 L839.5,1866" fill="none" stroke="#000" stroke-width="3.0" />
<path d="M655.8,1495 L620,1497 C612,1499 608.7,1506 608.7,1514 L608.7,1611.5" fill="none" stroke="#000" stroke-width="3.0" />
<path d="M656,1503 L631,1504.5 C620,1507 612,1514 610,1521" fill="none" stroke="#000" stroke-width="2.5" />
<path d="M608.7,1627 C608.7,1645 620,1658.6 633.8,1658.6 L655.8,1658.6" fill="none" stroke="#000" stroke-width="3.0" />
<path d="M621,1590 C614,1588 612,1580 615,1574 C619,1569 626,1568 634,1568 C645,1568 650,1573 650,1580 C650,1586 646,1589 642,1591" fill="none" stroke="#000" stroke-width="2.7" />
<path d="M624,1600 C621,1595 620,1585 621,1578 C622,1572 627,1569 632,1569 C638,1569 642,1572 643,1578 C644,1585 643,1595 639,1601" fill="none" stroke="#000" stroke-width="2.9" />
<path d="M632,1592.7 L632,1619.3 M632,1619.3 L553.8,1619.3 M533,1619.3 L520.8,1619.3 M520.8,1619.3 L520.8,1654" fill="none" stroke="#000" stroke-width="3.0" />
<path d="M918,1545.6 C900,1565 880,1575 841,1586.4 C825,1592 814,1602 816,1618 C818,1640 830,1655 844,1655.5 C860,1656 880,1650 900,1635 C920,1618 940,1600 960,1589.5 L991,1586.7 L1000,1575 L963,1526 L918,1530Z" fill="#fff" stroke="none"/>
<path d="M972,1341.9 C972,1330 990,1318 1005.6,1317.8 C1010,1317.6 1014,1318.5 1016,1319.9 L1068.4,1354.4 L1065,1425.6 C1062,1435 1045,1440 1039,1446.5 C1034,1451 1032.8,1456 1032.8,1463 L1032.8,1496.7 C1033,1500 1036,1503 1039,1505" fill="none" stroke="#000" stroke-width="3.0" />
<path d="M1062,1353.4 C1050,1358 1030,1367 1009.8,1367 C995,1367 975,1360 972,1341.9" fill="none" stroke="#000" stroke-width="3.0" />
<ellipse cx="1005.6" cy="1347" rx="13.4" ry="8" transform="rotate(0 1005.6 1347)" fill="none" stroke="#000" stroke-width="2.7" />
<path d="M1009.8,1369 L1009.8,1377.4" fill="none" stroke="#000" stroke-width="2.7" />
<path d="M1030.7,1373 C1036,1367 1041,1370 1042,1376 C1043,1382 1036,1385 1030.7,1383.7" fill="none" stroke="#000" stroke-width="2.7" />
<path d="M945,1390 L974,1406.7 L1032.8,1374.3" fill="none" stroke="#000" stroke-width="2.7" />
<path d="M945,1398.4 L974,1431.9 L980.5,1421.4 C990,1412 1000,1408 1008.7,1398.4" fill="none" stroke="#000" stroke-width="2.7" />
<path d="M1014,1397.3 L1061,1419.3 M1018,1410 L1049.5,1424.5 M988.8,1419.3 L1036,1442.3 M988.8,1434 L1023.4,1450.7" fill="none" stroke="#000" stroke-width="2.7" />
<path d="M911.4,1446.5 C925,1470 935,1490 942.8,1498.8 C950,1510 955,1518 963.7,1526 C985,1540 1005,1550 1026.5,1557.4 L1039,1559.5" fill="none" stroke="#000" stroke-width="3.0" />
<path d="M918,1482 L918.7,1547" fill="none" stroke="#000" stroke-width="3.0" />
<path d="M1049,1503 C1045,1502 1042,1503 1039,1505 M1049,1503 L1160.5,1563.7 C1166,1575 1162,1595 1152,1603.5 C1145,1607 1138,1606 1131,1604.5 C1120,1602 1112,1600 1110,1597 L1030.7,1553" fill="none" stroke="#000" stroke-width="3.0" />
<path d="M1110,1597 C1120,1585 1140,1570 1158,1565.8" fill="none" stroke="#000" stroke-width="2.7" />
<path d="M1030.7,1553 L1055,1536 C1062,1530 1060,1520 1052,1519 C1045,1518 1040,1521 1035,1525 L1012,1540 C1005,1545 1000,1540 1004,1533 L1042,1506" fill="none" stroke="#000" stroke-width="2.7" />
<path d="M1081,1580.4 L1110,1559.5 C1118,1555 1126,1560 1122.8,1568 L1095.6,1590" fill="none" stroke="#000" stroke-width="2.7" />
<path d="M961.6,1525 C945,1530 930,1537 918,1545.6 C900,1565 880,1575 841,1586.4 C825,1592 814,1602 816,1618 C818,1640 830,1655 844,1655.5 C860,1656 880,1650 900,1635 C920,1618 940,1600 960,1589.5 C970,1586 980,1586 991,1586.7" fill="none" stroke="#000" stroke-width="3.0" />
<path d="M1022,1560.6 L1022,1569 M1035,1561.6 C1042,1566 1043,1578 1030.7,1582.5" fill="none" stroke="#000" stroke-width="2.7" />
<path d="M1032.8,1572 L978.4,1602.4 L1014,1623.4" fill="none" stroke="#000" stroke-width="2.7" />
<path d="M1009.8,1594 C1020,1603 1035,1610 1043,1609.8 C1055,1608 1058,1600 1058,1593 L1055.8,1570" fill="none" stroke="#000" stroke-width="2.7" />
<path d="M1026.5,1630.7 L1037,1637 M1049.5,1643.2 L1067.3,1653.7 M1067.3,1653.7 L1027.5,1675.7" fill="none" stroke="#000" stroke-width="2.7" />
<path d="M572.4,1287 L575.3,1283 L581.2,1281.5 L588.9,1282.4 L598.9,1291.2 L607.1,1301.8 L610,1308.3 L610,1326 L603,1332.4 L598.9,1331.8 L598.9,1331.8 L588.9,1336.5 L558.8,1313.6 L565.3,1325.3 L574.1,1333.6 L581.2,1337.1 L588.9,1336.5 L598.9,1330.6 L601.2,1314.7 L590,1293.5 L571.2,1290 L564.1,1294.7 L559.4,1300.6Z" fill="#fff" stroke="none"/>
<path d="M572.4,1287 C572.9,1286.3 573.8,1283.9 575.3,1283 C576.8,1282.1 578.9,1281.6 581.2,1281.5 C583.5,1281.4 586,1280.8 588.9,1282.4 C591.8,1284 595.9,1288 598.9,1291.2 C601.9,1294.4 605.2,1299 607.1,1301.8 C609,1304.6 609.5,1304.3 610,1308.3 C610.5,1312.3 611.2,1322 610,1326 C608.8,1330 604.9,1331.4 603,1332.4 C601.1,1333.4 599.6,1331.9 598.9,1331.8" fill="none" stroke="#000" stroke-width="3.0" />
<path d="M559.4,1300.6 C560.3,1297.4 562.1,1296.5 564.1,1294.7 C566.1,1292.9 566.9,1290.2 571.2,1290 C575.5,1289.8 585,1289.4 590,1293.5 C595,1297.6 599.7,1308.5 601.2,1314.7 C602.7,1320.9 601,1327 598.9,1330.6 C596.8,1334.2 591.8,1335.4 588.9,1336.5 C586,1337.6 583.7,1337.6 581.2,1337.1 C578.7,1336.6 576.8,1335.6 574.1,1333.6 C571.5,1331.6 567.8,1328.6 565.3,1325.3 C562.8,1322 559.8,1317.7 558.8,1313.6 C557.8,1309.5 558.5,1303.8 559.4,1300.6Z" fill="#fff" stroke="#000" stroke-width="3.0" />
<path d="M567.7,1296 L573,1291.8 L584.7,1294.7 L579.4,1300.6Z" fill="none" stroke="#000" stroke-width="2.7" />
<path d="M579.4,1300.6 L589.4,1295.9 L601.2,1314.7 L590,1318.9Z" fill="none" stroke="#000" stroke-width="2.7" />
<path d="M590,1318.9 L599.4,1316.5 L596.5,1330.6 L588.3,1334.7" fill="none" stroke="#000" stroke-width="2.7" />
<path d="M565.9,1308.3 C567.3,1306.4 572,1305.7 574.7,1307.7 C577.5,1309.8 581.4,1317.3 582.4,1320.6 C583.4,1323.9 581.8,1326.5 580.6,1327.7 C579.4,1328.9 577.6,1329.2 575.3,1327.7 C572.9,1326.2 568.1,1322.1 566.5,1318.9 C564.9,1315.7 564.5,1310.2 565.9,1308.3Z" fill="none" stroke="#000" stroke-width="2.7" />
<path d="M563,1299.4 C562.8,1300.8 561.2,1303.8 561.8,1307.7 C562.4,1311.6 564.2,1319.1 566.5,1323 C568.8,1326.9 571.9,1329.2 575.3,1331.2 C578.7,1333.2 585,1334.1 587,1334.7" fill="none" stroke="#000" stroke-width="2.5" />
<path d="M993.4,1666 L996.3,1662 L1002.2,1660.5 L1009.9,1661.4 L1019.9,1670.2 L1028.1,1680.8 L1031,1687.3 L1031,1705 L1024,1711.4 L1019.9,1710.8 L1019.9,1710.8 L1009.9,1715.5 L979.8,1692.6 L986.3,1704.3 L995.1,1712.6 L1002.2,1716.1 L1009.9,1715.5 L1019.9,1709.6 L1022.2,1693.7 L1011,1672.5 L992.2,1669 L985.1,1673.7 L980.4,1679.6Z" fill="#fff" stroke="none"/>
<path d="M993.4,1666 C993.9,1665.3 994.8,1662.9 996.3,1662 C997.8,1661.1 999.9,1660.6 1002.2,1660.5 C1004.5,1660.4 1007,1659.8 1009.9,1661.4 C1012.8,1663 1016.9,1667 1019.9,1670.2 C1022.9,1673.4 1026.2,1678 1028.1,1680.8 C1029.9,1683.6 1030.5,1683.3 1031,1687.3 C1031.5,1691.3 1032.2,1701 1031,1705 C1029.8,1709 1025.8,1710.4 1024,1711.4 C1022.1,1712.4 1020.6,1710.9 1019.9,1710.8" fill="none" stroke="#000" stroke-width="3.0" />
<path d="M980.4,1679.6 C981.3,1676.4 983.1,1675.5 985.1,1673.7 C987.1,1671.9 987.9,1669.2 992.2,1669 C996.5,1668.8 1006,1668.4 1011,1672.5 C1016,1676.6 1020.7,1687.5 1022.2,1693.7 C1023.7,1699.9 1022,1706 1019.9,1709.6 C1017.8,1713.2 1012.8,1714.4 1009.9,1715.5 C1007,1716.6 1004.7,1716.6 1002.2,1716.1 C999.7,1715.6 997.8,1714.6 995.1,1712.6 C992.5,1710.6 988.8,1707.6 986.3,1704.3 C983.8,1701 980.8,1696.7 979.8,1692.6 C978.8,1688.5 979.5,1682.8 980.4,1679.6Z" fill="#fff" stroke="#000" stroke-width="3.0" />
<path d="M988.7,1675 L994,1670.8 L1005.7,1673.7 L1000.4,1679.6Z" fill="none" stroke="#000" stroke-width="2.7" />
<path d="M1000.4,1679.6 L1010.4,1674.9 L1022.2,1693.7 L1011,1697.9Z" fill="none" stroke="#000" stroke-width="2.7" />
<path d="M1011,1697.9 L1020.4,1695.5 L1017.5,1709.6 L1009.3,1713.7" fill="none" stroke="#000" stroke-width="2.7" />
<path d="M986.9,1687.3 C988.3,1685.4 993,1684.7 995.7,1686.7 C998.5,1688.8 1002.4,1696.3 1003.4,1699.6 C1004.4,1702.9 1002.8,1705.5 1001.6,1706.7 C1000.4,1707.9 998.6,1708.2 996.3,1706.7 C993.9,1705.2 989.1,1701.1 987.5,1697.9 C985.9,1694.7 985.5,1689.2 986.9,1687.3Z" fill="none" stroke="#000" stroke-width="2.7" />
<path d="M984,1678.4 C983.8,1679.8 982.2,1682.8 982.8,1686.7 C983.4,1690.6 985.2,1698.1 987.5,1702 C989.8,1705.9 992.9,1708.2 996.3,1710.2 C999.7,1712.2 1006,1713.1 1008,1713.7" fill="none" stroke="#000" stroke-width="2.5" />
<path d="M492.4,1677.5 C493,1675.9 494,1671 496,1668 C498,1665 500.5,1661.9 504.6,1659.8 C508.7,1657.7 515.5,1655.5 520.8,1655.4 C526.1,1655.3 532.5,1657.5 536.5,1659.3 C540.5,1661.1 542.8,1663.5 545,1666 C547.2,1668.5 549,1671.6 549.7,1674.5 C550.4,1677.4 549.4,1681.9 549.3,1683.4" fill="#fff" stroke="#000" stroke-width="3.0" />
<path d="M492.4,1679.4 L496.3,1688.3 L514.4,1707 L526.2,1707 L543.9,1689.2 L549.7,1682.4" fill="#fff" stroke="#000" stroke-width="3.0" />
<path d="M497.8,1681 C498.1,1679.7 497.9,1675.7 499.7,1673 C501.5,1670.3 506.1,1666.4 508.5,1664.7 C510.9,1663 511.4,1663.1 514.4,1662.8 C517.4,1662.5 523.4,1662.2 526.7,1662.8 C530,1663.4 531.2,1663.6 534,1666.2 C536.8,1668.8 541.8,1675.2 543.4,1678.5 C545,1681.8 543.4,1685 543.4,1686.3" fill="none" stroke="#000" stroke-width="2.7" />
<path d="M510,1664.2 L510,1677.5 L532,1677.5 L532,1664.2" fill="none" stroke="#000" stroke-width="3.0" />
<path d="M509.5,1677.5 L499.7,1688.8 M532,1677.5 L543.4,1688.8" fill="none" stroke="#000" stroke-width="3.0" />
<ellipse cx="521.8" cy="1691.7" rx="12.3" ry="9.3" transform="rotate(0 521.8 1691.7)" fill="none" stroke="#000" stroke-width="2.7" />
<line x1="398" y1="190" x2="398" y2="237" stroke="#000" stroke-width="2.7" />
<path d="M5,29.5 L16,14 M10,0.8 C14.8,0.8 18.5,4.6 18.5,9.3 C18.5,14 14.8,17.5 10,17.5 C5.2,17.5 1.5,14 1.5,9.3 C1.5,4.6 5.2,0.8 10,0.8Z" transform="translate(388 246) scale(1.1 1.0666666666666667)" fill="none" stroke="#000" stroke-width="3.4" vector-effect="non-scaling-stroke" stroke-linecap="butt" stroke-linejoin="miter"/>
<line x1="396" y1="402" x2="396" y2="449" stroke="#000" stroke-width="2.7" />
<path d="M10,0.8 C14,0.8 16.8,3.7 16.8,7.5 C16.8,11.3 14,14 10,14 C6,14 3.2,11.3 3.2,7.5 C3.2,3.7 6,0.8 10,0.8Z M10,14 C14.8,14 18.5,17.3 18.5,21.8 C18.5,26.3 14.8,29.5 10,29.5 C5.2,29.5 1.5,26.3 1.5,21.8 C1.5,17.3 5.2,14 10,14Z" transform="translate(388 459) scale(0.95 1.0)" fill="none" stroke="#000" stroke-width="3.4" vector-effect="non-scaling-stroke" stroke-linecap="butt" stroke-linejoin="miter"/>
<path d="M1.5,5.5 C3,2.5 6,0.8 9.5,0.8 C14.5,0.8 18,3.5 18,7.5 C18,11.5 14.5,14 9,14 C15,14 18.8,17 18.8,22 C18.8,26.5 15,29.5 10,29.5 C6,29.5 3,28 1,24.5" transform="translate(826 156) scale(0.95 1.0333333333333334)" fill="none" stroke="#000" stroke-width="3.4" vector-effect="non-scaling-stroke" stroke-linecap="butt" stroke-linejoin="miter"/>
<path d="M1.5,6 C3,2.5 6,0.8 10,0.8 C15,0.8 18.5,4 18.5,9 C18.5,12.5 16.5,15.5 14,18 L2,29.2 L19.5,29.2" transform="translate(844 255) scale(0.95 0.9666666666666667)" fill="none" stroke="#000" stroke-width="3.4" vector-effect="non-scaling-stroke" stroke-linecap="butt" stroke-linejoin="miter"/>
<line x1="620" y1="684.7" x2="672" y2="684.7" stroke="#000" stroke-width="2.7" />
<path d="M1.5,4 L6,0.8 L6,30" transform="translate(598 666) scale(0.5 1.0)" fill="none" stroke="#000" stroke-width="3.4" vector-effect="non-scaling-stroke" stroke-linecap="butt" stroke-linejoin="miter"/>
<line x1="1341" y1="804.4" x2="1387" y2="804.4" stroke="#000" stroke-width="2.7" />
<path d="M1.5,4 L6,0.8 L6,30" transform="translate(1393 788) scale(0.5 1.0)" fill="none" stroke="#000" stroke-width="3.4" vector-effect="non-scaling-stroke" stroke-linecap="butt" stroke-linejoin="miter"/>
<path d="M10,0.8 C15.5,0.8 19,7 19,15 C19,23 15.5,29.2 10,29.2 C4.5,29.2 1,23 1,15 C1,7 4.5,0.8 10,0.8Z" transform="translate(1413 788) scale(1.1 1.0)" fill="none" stroke="#000" stroke-width="3.4" vector-effect="non-scaling-stroke" stroke-linecap="butt" stroke-linejoin="miter"/>
<line x1="512" y1="1304.8" x2="559.7" y2="1304.8" stroke="#000" stroke-width="2.7" />
<path d="M18.5,1 L6.5,1.8 L3,13.5 C5,11.5 8,10.8 10.5,10.8 C15.5,10.8 19,14.5 19,20 C19,25.5 15,29.5 10,29.5 C6,29.5 3,27.5 1,24.5" transform="translate(486 1285) scale(1.0 1.0333333333333334)" fill="none" stroke="#000" stroke-width="3.4" vector-effect="non-scaling-stroke" stroke-linecap="butt" stroke-linejoin="miter"/>
<line x1="549" y1="1523" x2="597.7" y2="1523" stroke="#000" stroke-width="2.7" />
<path d="M14,29.5 L14,1 L1.5,24.5 L19.5,24.5" transform="translate(522 1505) scale(1.05 0.9666666666666667)" fill="none" stroke="#000" stroke-width="3.4" vector-effect="non-scaling-stroke" stroke-linecap="butt" stroke-linejoin="miter"/>
<line x1="444" y1="1677.9" x2="492" y2="1677.9" stroke="#000" stroke-width="2.7" />
<path d="M1,1.5 L19.5,1.5 L5,29.8" transform="translate(418 1659) scale(1.1 1.0)" fill="none" stroke="#000" stroke-width="3.4" vector-effect="non-scaling-stroke" stroke-linecap="butt" stroke-linejoin="miter"/>
<line x1="1004.8" y1="1717" x2="1004.8" y2="1767" stroke="#000" stroke-width="3.0" />
<path d="M15,0.8 L4,16 M10,12.5 C14.8,12.5 18.5,16.3 18.5,21 C18.5,25.7 14.8,29.5 10,29.5 C5.2,29.5 1.5,25.7 1.5,21 C1.5,16.3 5.2,12.5 10,12.5Z" transform="translate(995 1778) scale(1.05 1.0)" fill="none" stroke="#000" stroke-width="3.4" vector-effect="non-scaling-stroke" stroke-linecap="butt" stroke-linejoin="miter"/>
</svg>
</body></html>
